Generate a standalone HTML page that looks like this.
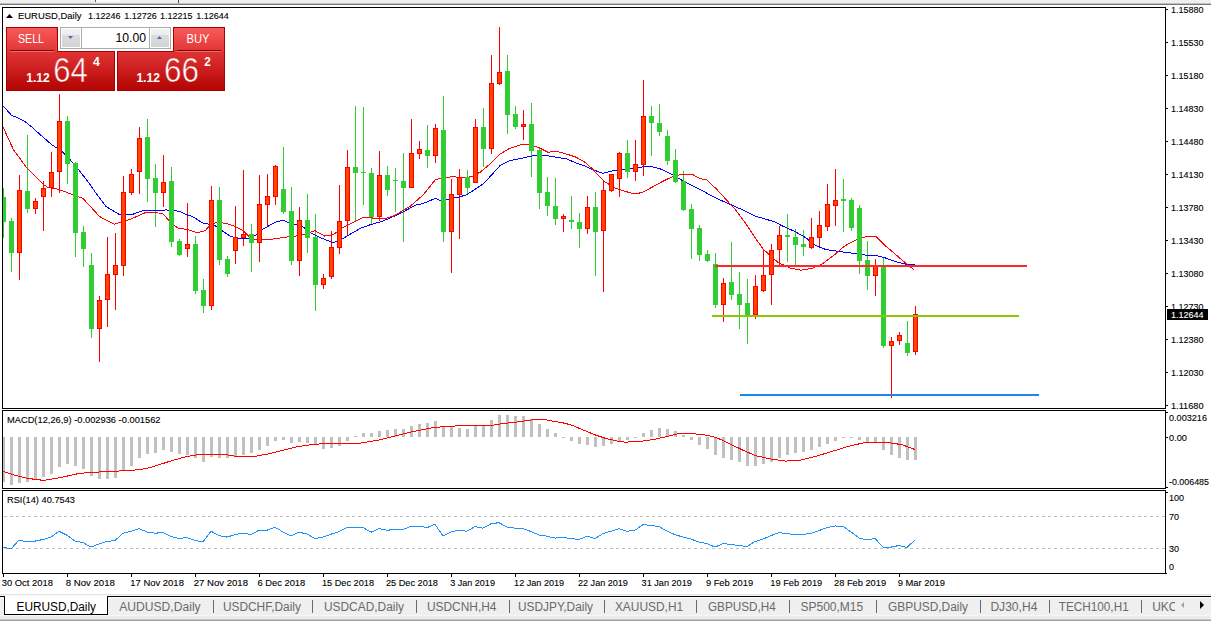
<!DOCTYPE html><html><head><meta charset="utf-8"><title>EURUSD,Daily</title><style>html,body{margin:0;padding:0;background:#fff}body{width:1211px;height:621px;overflow:hidden;position:relative}svg{position:absolute;left:0;top:0;font-family:"Liberation Sans", Arial, sans-serif}</style></head><body>
<svg width="1211" height="621" viewBox="0 0 1211 621">
<defs><linearGradient id="gTab" x1="0" y1="0" x2="0" y2="1"><stop offset="0" stop-color="#f85a5a"/><stop offset="1" stop-color="#e23434"/></linearGradient><linearGradient id="gPx" x1="0" y1="0" x2="0" y2="1"><stop offset="0" stop-color="#e03434"/><stop offset="1" stop-color="#b40404"/></linearGradient><linearGradient id="gBtn" x1="0" y1="0" x2="0" y2="1"><stop offset="0" stop-color="#f2f2f2"/><stop offset="0.33" stop-color="#ececec"/><stop offset="0.34" stop-color="#dcdcdc"/><stop offset="1" stop-color="#d4d4d4"/></linearGradient><linearGradient id="gPxU" gradientUnits="userSpaceOnUse" x1="0" y1="52" x2="0" y2="90"><stop offset="0" stop-color="#e03434"/><stop offset="1" stop-color="#b40404"/></linearGradient></defs>
<g shape-rendering="crispEdges">
<rect x="0" y="0" width="1211" height="3" fill="#efefef"/>
<rect x="0" y="3" width="1211" height="1" fill="#c0c0c0"/>
<rect x="0" y="4" width="1211" height="1" fill="#7a7a7a"/>
<rect x="96" y="0" width="24" height="2" fill="#fafafa"/>
<rect x="95" y="0" width="1" height="2" fill="#606060"/>
<rect x="178" y="0" width="1" height="3" fill="#505050"/>
</g>
<svg x="3" y="8" width="1162" height="400" viewBox="3 8 1162 400" overflow="hidden">
<g shape-rendering="crispEdges">
<rect x="3" y="188" width="1" height="50" fill="#32cd32"/>
<rect x="11" y="218" width="1" height="54" fill="#32cd32"/>
<rect x="19" y="175" width="1" height="105" fill="#ff0000"/>
<rect x="27" y="135" width="1" height="78" fill="#32cd32"/>
<rect x="35" y="198" width="1" height="16" fill="#ff0000"/>
<rect x="43" y="181" width="1" height="50" fill="#ff0000"/>
<rect x="51" y="152" width="1" height="45" fill="#ff0000"/>
<rect x="59" y="94" width="1" height="99" fill="#ff0000"/>
<rect x="67" y="116" width="1" height="68" fill="#32cd32"/>
<rect x="75" y="162" width="1" height="95" fill="#32cd32"/>
<rect x="83" y="226" width="1" height="41" fill="#32cd32"/>
<rect x="91" y="253" width="1" height="85" fill="#32cd32"/>
<rect x="99" y="296" width="1" height="66" fill="#ff0000"/>
<rect x="107" y="237" width="1" height="90" fill="#ff0000"/>
<rect x="115" y="233" width="1" height="77" fill="#ff0000"/>
<rect x="123" y="176" width="1" height="100" fill="#ff0000"/>
<rect x="131" y="169" width="1" height="26" fill="#ff0000"/>
<rect x="139" y="127" width="1" height="67" fill="#ff0000"/>
<rect x="147" y="119" width="1" height="83" fill="#32cd32"/>
<rect x="155" y="164" width="1" height="63" fill="#32cd32"/>
<rect x="163" y="155" width="1" height="52" fill="#ff0000"/>
<rect x="171" y="167" width="1" height="80" fill="#32cd32"/>
<rect x="179" y="239" width="1" height="17" fill="#32cd32"/>
<rect x="187" y="203" width="1" height="54" fill="#ff0000"/>
<rect x="195" y="236" width="1" height="58" fill="#32cd32"/>
<rect x="203" y="279" width="1" height="34" fill="#32cd32"/>
<rect x="211" y="186" width="1" height="124" fill="#ff0000"/>
<rect x="219" y="187" width="1" height="78" fill="#32cd32"/>
<rect x="227" y="256" width="1" height="21" fill="#32cd32"/>
<rect x="235" y="206" width="1" height="58" fill="#ff0000"/>
<rect x="243" y="170" width="1" height="76" fill="#ff0000"/>
<rect x="251" y="224" width="1" height="48" fill="#32cd32"/>
<rect x="259" y="175" width="1" height="87" fill="#ff0000"/>
<rect x="267" y="174" width="1" height="53" fill="#ff0000"/>
<rect x="275" y="165" width="1" height="40" fill="#ff0000"/>
<rect x="283" y="147" width="1" height="67" fill="#32cd32"/>
<rect x="291" y="187" width="1" height="78" fill="#32cd32"/>
<rect x="299" y="207" width="1" height="69" fill="#ff0000"/>
<rect x="307" y="194" width="1" height="59" fill="#32cd32"/>
<rect x="315" y="214" width="1" height="97" fill="#32cd32"/>
<rect x="323" y="274" width="1" height="15" fill="#ff0000"/>
<rect x="331" y="231" width="1" height="48" fill="#ff0000"/>
<rect x="339" y="185" width="1" height="69" fill="#ff0000"/>
<rect x="347" y="150" width="1" height="85" fill="#ff0000"/>
<rect x="355" y="106" width="1" height="115" fill="#32cd32"/>
<rect x="363" y="107" width="1" height="98" fill="#32cd32"/>
<rect x="371" y="168" width="1" height="56" fill="#32cd32"/>
<rect x="379" y="151" width="1" height="70" fill="#ff0000"/>
<rect x="387" y="166" width="1" height="30" fill="#32cd32"/>
<rect x="395" y="168" width="1" height="44" fill="#32cd32"/>
<rect x="403" y="153" width="1" height="89" fill="#32cd32"/>
<rect x="411" y="119" width="1" height="69" fill="#ff0000"/>
<rect x="419" y="141" width="1" height="18" fill="#ff0000"/>
<rect x="427" y="125" width="1" height="43" fill="#32cd32"/>
<rect x="435" y="124" width="1" height="39" fill="#ff0000"/>
<rect x="443" y="96" width="1" height="146" fill="#32cd32"/>
<rect x="451" y="179" width="1" height="94" fill="#ff0000"/>
<rect x="459" y="169" width="1" height="70" fill="#ff0000"/>
<rect x="467" y="170" width="1" height="24" fill="#32cd32"/>
<rect x="475" y="119" width="1" height="64" fill="#ff0000"/>
<rect x="483" y="108" width="1" height="59" fill="#32cd32"/>
<rect x="491" y="55" width="1" height="99" fill="#ff0000"/>
<rect x="499" y="27" width="1" height="58" fill="#ff0000"/>
<rect x="507" y="55" width="1" height="79" fill="#32cd32"/>
<rect x="515" y="106" width="1" height="23" fill="#32cd32"/>
<rect x="523" y="110" width="1" height="30" fill="#ff0000"/>
<rect x="531" y="103" width="1" height="74" fill="#32cd32"/>
<rect x="539" y="149" width="1" height="60" fill="#32cd32"/>
<rect x="547" y="177" width="1" height="39" fill="#32cd32"/>
<rect x="555" y="178" width="1" height="47" fill="#32cd32"/>
<rect x="563" y="214" width="1" height="18" fill="#ff0000"/>
<rect x="571" y="196" width="1" height="33" fill="#32cd32"/>
<rect x="579" y="213" width="1" height="35" fill="#32cd32"/>
<rect x="587" y="196" width="1" height="38" fill="#ff0000"/>
<rect x="595" y="192" width="1" height="84" fill="#32cd32"/>
<rect x="603" y="180" width="1" height="112" fill="#ff0000"/>
<rect x="611" y="174" width="1" height="18" fill="#ff0000"/>
<rect x="619" y="152" width="1" height="45" fill="#ff0000"/>
<rect x="627" y="140" width="1" height="38" fill="#32cd32"/>
<rect x="635" y="140" width="1" height="41" fill="#ff0000"/>
<rect x="643" y="80" width="1" height="96" fill="#ff0000"/>
<rect x="651" y="106" width="1" height="50" fill="#32cd32"/>
<rect x="659" y="104" width="1" height="32" fill="#32cd32"/>
<rect x="667" y="130" width="1" height="35" fill="#32cd32"/>
<rect x="675" y="149" width="1" height="34" fill="#32cd32"/>
<rect x="683" y="171" width="1" height="40" fill="#32cd32"/>
<rect x="691" y="204" width="1" height="55" fill="#32cd32"/>
<rect x="699" y="225" width="1" height="36" fill="#32cd32"/>
<rect x="707" y="250" width="1" height="12" fill="#32cd32"/>
<rect x="715" y="253" width="1" height="55" fill="#32cd32"/>
<rect x="723" y="278" width="1" height="44" fill="#ff0000"/>
<rect x="731" y="242" width="1" height="58" fill="#32cd32"/>
<rect x="739" y="272" width="1" height="57" fill="#32cd32"/>
<rect x="747" y="279" width="1" height="65" fill="#32cd32"/>
<rect x="755" y="275" width="1" height="44" fill="#ff0000"/>
<rect x="763" y="249" width="1" height="43" fill="#ff0000"/>
<rect x="771" y="244" width="1" height="61" fill="#ff0000"/>
<rect x="779" y="226" width="1" height="39" fill="#ff0000"/>
<rect x="787" y="214" width="1" height="48" fill="#32cd32"/>
<rect x="795" y="229" width="1" height="36" fill="#32cd32"/>
<rect x="803" y="230" width="1" height="26" fill="#32cd32"/>
<rect x="811" y="218" width="1" height="31" fill="#ff0000"/>
<rect x="819" y="211" width="1" height="36" fill="#ff0000"/>
<rect x="827" y="184" width="1" height="47" fill="#ff0000"/>
<rect x="835" y="169" width="1" height="57" fill="#ff0000"/>
<rect x="843" y="179" width="1" height="53" fill="#32cd32"/>
<rect x="851" y="198" width="1" height="33" fill="#32cd32"/>
<rect x="859" y="205" width="1" height="69" fill="#32cd32"/>
<rect x="867" y="241" width="1" height="49" fill="#32cd32"/>
<rect x="875" y="259" width="1" height="37" fill="#ff0000"/>
<rect x="883" y="258" width="1" height="90" fill="#32cd32"/>
<rect x="891" y="337" width="1" height="61" fill="#ff0000"/>
<rect x="899" y="332" width="1" height="13" fill="#ff0000"/>
<rect x="907" y="321" width="1" height="35" fill="#32cd32"/>
<rect x="915" y="306" width="1" height="49" fill="#ff0000"/>
</g>
<polyline points="3.0,106.3 7.2,110.4 11.6,115.5 14.5,116.4 19.3,118.6 23.2,120.5 26.1,122.5 30.9,126.3 34.3,129.2 38.1,132.8 51.4,144.4 61.4,151.0 71.3,161.0 79.6,170.9 90.4,185.0 94.5,191.0 106.1,206.6 119.4,214.5 131.0,214.9 144.3,210.2 159.2,210.7 165.8,209.9 179.1,211.2 189.1,215.7 192.0,216.2 203.6,223.5 213.6,224.8 230.1,236.1 238.4,238.4 248.4,238.4 255.0,235.6 263.3,229.0 274.9,222.3 283.2,220.3 291.5,224.0 301.5,225.7 311.4,233.1 321.4,238.1 333.0,242.7 342.0,239.0 350.7,233.9 360.9,228.1 371.0,224.5 381.2,221.6 387.0,219.4 401.4,212.9 415.9,204.9 423.2,203.5 435.5,198.4 440.6,200.6 459.4,197.0 466.9,194.6 483.5,183.8 500.1,165.6 510.0,160.6 529.9,156.5 536.6,155.1 546.5,155.6 566.4,158.9 576.0,162.9 584.0,165.6 592.6,169.5 602.5,173.3 614.1,170.4 625.8,169.2 642.3,167.0 650.6,166.2 662.2,169.5 672.2,174.6 683.8,181.3 698.7,188.7 713.6,197.0 728.6,203.7 741.8,209.5 755.1,216.1 766.7,219.4 776.0,222.4 781.3,225.5 794.5,231.3 806.1,237.9 814.4,244.9 826.0,249.6 839.3,251.5 855.9,253.7 867.5,255.4 875.8,255.4 884.1,257.5 890.7,260.0 897.4,262.0 905.6,264.1 914.8,264.6" fill="none" stroke="#0000ff" stroke-width="1" shape-rendering="crispEdges"/>
<polyline points="3.0,127.0 13.3,149.4 26.5,167.6 43.1,184.2 48.1,187.5 58.0,189.1 71.3,194.1 82.9,198.3 99.5,216.5 114.4,224.3 131.0,219.0 145.9,212.4 162.5,213.2 172.5,224.8 179.1,228.4 187.4,229.4 195.7,232.3 198.6,232.3 205.3,230.6 210.2,224.8 216.9,222.3 225.2,223.2 233.5,225.7 243.4,230.6 249.2,236.8 255.0,239.4 261.7,239.8 274.9,238.9 284.9,237.3 299.8,235.6 308.1,233.1 314.7,230.6 324.7,236.1 333.0,234.8 342.0,228.1 347.8,225.2 355.1,221.6 363.8,217.2 372.5,218.0 387.0,218.0 394.2,215.8 401.4,211.4 410.1,206.4 423.2,194.8 435.5,179.6 444.9,177.4 453.6,176.7 459.4,177.4 463.6,178.0 471.9,176.4 480.2,172.2 490.1,163.9 500.1,154.0 510.0,148.2 521.6,144.5 529.9,144.5 538.2,147.3 548.2,152.3 556.5,151.2 566.4,154.0 576.4,157.3 586.0,162.9 592.6,169.2 604.2,181.3 614.1,187.6 622.4,190.4 634.0,194.0 642.3,192.5 652.3,187.1 662.2,181.6 673.8,176.0 682.1,174.3 692.1,174.3 700.4,178.8 707.0,180.0 717.0,189.6 725.3,198.7 735.2,209.5 745.2,222.7 755.1,237.7 763.4,249.3 771.3,256.6 778.0,262.4 789.6,267.9 801.2,270.2 812.8,268.2 822.7,263.6 834.3,255.0 844.3,246.2 855.9,239.9 864.2,237.1 874.1,236.3 875.9,236.4 884.6,245.1 894.8,253.8 904.9,262.5 913.6,269.4" fill="none" stroke="#ff0000" stroke-width="1" shape-rendering="crispEdges"/>
<g shape-rendering="crispEdges">
<rect x="1" y="197" width="5" height="25" fill="#32cd32"/>
<rect x="9" y="221" width="5" height="32" fill="#32cd32"/>
<rect x="17" y="190" width="5" height="63" fill="#ff0000"/>
<rect x="18" y="191" width="3" height="61" fill="#ff4500"/>
<rect x="25" y="191" width="5" height="18" fill="#32cd32"/>
<rect x="33" y="201" width="5" height="8" fill="#ff0000"/>
<rect x="34" y="202" width="3" height="6" fill="#ff4500"/>
<rect x="41" y="188" width="5" height="9" fill="#ff0000"/>
<rect x="42" y="189" width="3" height="7" fill="#ff4500"/>
<rect x="49" y="172" width="5" height="16" fill="#ff0000"/>
<rect x="50" y="173" width="3" height="14" fill="#ff4500"/>
<rect x="57" y="121" width="5" height="51" fill="#ff0000"/>
<rect x="58" y="122" width="3" height="49" fill="#ff4500"/>
<rect x="65" y="121" width="5" height="43" fill="#32cd32"/>
<rect x="73" y="163" width="5" height="70" fill="#32cd32"/>
<rect x="81" y="232" width="5" height="17" fill="#32cd32"/>
<rect x="89" y="265" width="5" height="64" fill="#32cd32"/>
<rect x="97" y="300" width="5" height="29" fill="#ff0000"/>
<rect x="98" y="301" width="3" height="27" fill="#ff4500"/>
<rect x="105" y="274" width="5" height="26" fill="#ff0000"/>
<rect x="106" y="275" width="3" height="24" fill="#ff4500"/>
<rect x="113" y="265" width="5" height="10" fill="#ff0000"/>
<rect x="114" y="266" width="3" height="8" fill="#ff4500"/>
<rect x="121" y="192" width="5" height="74" fill="#ff0000"/>
<rect x="122" y="193" width="3" height="72" fill="#ff4500"/>
<rect x="129" y="174" width="5" height="19" fill="#ff0000"/>
<rect x="130" y="175" width="3" height="17" fill="#ff4500"/>
<rect x="137" y="138" width="5" height="34" fill="#ff0000"/>
<rect x="138" y="139" width="3" height="32" fill="#ff4500"/>
<rect x="145" y="137" width="5" height="42" fill="#32cd32"/>
<rect x="153" y="178" width="5" height="15" fill="#32cd32"/>
<rect x="161" y="182" width="5" height="11" fill="#ff0000"/>
<rect x="162" y="183" width="3" height="9" fill="#ff4500"/>
<rect x="169" y="181" width="5" height="61" fill="#32cd32"/>
<rect x="177" y="241" width="5" height="14" fill="#32cd32"/>
<rect x="185" y="244" width="5" height="5" fill="#ff0000"/>
<rect x="186" y="245" width="3" height="3" fill="#ff4500"/>
<rect x="193" y="244" width="5" height="47" fill="#32cd32"/>
<rect x="201" y="290" width="5" height="16" fill="#32cd32"/>
<rect x="209" y="200" width="5" height="106" fill="#ff0000"/>
<rect x="210" y="201" width="3" height="104" fill="#ff4500"/>
<rect x="217" y="200" width="5" height="60" fill="#32cd32"/>
<rect x="225" y="259" width="5" height="15" fill="#32cd32"/>
<rect x="233" y="237" width="5" height="14" fill="#ff0000"/>
<rect x="234" y="238" width="3" height="12" fill="#ff4500"/>
<rect x="241" y="234" width="5" height="4" fill="#ff0000"/>
<rect x="242" y="235" width="3" height="2" fill="#ff4500"/>
<rect x="249" y="234" width="5" height="9" fill="#32cd32"/>
<rect x="257" y="204" width="5" height="39" fill="#ff0000"/>
<rect x="258" y="205" width="3" height="37" fill="#ff4500"/>
<rect x="265" y="196" width="5" height="9" fill="#ff0000"/>
<rect x="266" y="197" width="3" height="7" fill="#ff4500"/>
<rect x="273" y="166" width="5" height="31" fill="#ff0000"/>
<rect x="274" y="167" width="3" height="29" fill="#ff4500"/>
<rect x="281" y="189" width="5" height="23" fill="#32cd32"/>
<rect x="289" y="211" width="5" height="50" fill="#32cd32"/>
<rect x="297" y="220" width="5" height="41" fill="#ff0000"/>
<rect x="298" y="221" width="3" height="39" fill="#ff4500"/>
<rect x="305" y="220" width="5" height="18" fill="#32cd32"/>
<rect x="313" y="237" width="5" height="48" fill="#32cd32"/>
<rect x="321" y="278" width="5" height="7" fill="#ff0000"/>
<rect x="322" y="279" width="3" height="5" fill="#ff4500"/>
<rect x="329" y="247" width="5" height="30" fill="#ff0000"/>
<rect x="330" y="248" width="3" height="28" fill="#ff4500"/>
<rect x="337" y="221" width="5" height="27" fill="#ff0000"/>
<rect x="338" y="222" width="3" height="25" fill="#ff4500"/>
<rect x="345" y="167" width="5" height="54" fill="#ff0000"/>
<rect x="346" y="168" width="3" height="52" fill="#ff4500"/>
<rect x="353" y="167" width="5" height="6" fill="#32cd32"/>
<rect x="361" y="172" width="5" height="1" fill="#32cd32"/>
<rect x="369" y="173" width="5" height="44" fill="#32cd32"/>
<rect x="377" y="175" width="5" height="42" fill="#ff0000"/>
<rect x="378" y="176" width="3" height="40" fill="#ff4500"/>
<rect x="385" y="175" width="5" height="15" fill="#32cd32"/>
<rect x="393" y="180" width="5" height="1" fill="#32cd32"/>
<rect x="401" y="181" width="5" height="7" fill="#32cd32"/>
<rect x="409" y="153" width="5" height="35" fill="#ff0000"/>
<rect x="410" y="154" width="3" height="33" fill="#ff4500"/>
<rect x="417" y="149" width="5" height="5" fill="#ff0000"/>
<rect x="418" y="150" width="3" height="3" fill="#ff4500"/>
<rect x="425" y="150" width="5" height="6" fill="#32cd32"/>
<rect x="433" y="128" width="5" height="28" fill="#ff0000"/>
<rect x="434" y="129" width="3" height="26" fill="#ff4500"/>
<rect x="441" y="130" width="5" height="102" fill="#32cd32"/>
<rect x="449" y="194" width="5" height="38" fill="#ff0000"/>
<rect x="450" y="195" width="3" height="36" fill="#ff4500"/>
<rect x="457" y="177" width="5" height="18" fill="#ff0000"/>
<rect x="458" y="178" width="3" height="16" fill="#ff4500"/>
<rect x="465" y="177" width="5" height="11" fill="#32cd32"/>
<rect x="473" y="127" width="5" height="56" fill="#ff0000"/>
<rect x="474" y="128" width="3" height="54" fill="#ff4500"/>
<rect x="481" y="127" width="5" height="22" fill="#32cd32"/>
<rect x="489" y="83" width="5" height="66" fill="#ff0000"/>
<rect x="490" y="84" width="3" height="64" fill="#ff4500"/>
<rect x="497" y="72" width="5" height="12" fill="#ff0000"/>
<rect x="498" y="73" width="3" height="10" fill="#ff4500"/>
<rect x="505" y="71" width="5" height="44" fill="#32cd32"/>
<rect x="513" y="114" width="5" height="13" fill="#32cd32"/>
<rect x="521" y="124" width="5" height="3" fill="#ff0000"/>
<rect x="522" y="125" width="3" height="1" fill="#ff4500"/>
<rect x="529" y="124" width="5" height="27" fill="#32cd32"/>
<rect x="537" y="150" width="5" height="43" fill="#32cd32"/>
<rect x="545" y="192" width="5" height="14" fill="#32cd32"/>
<rect x="553" y="206" width="5" height="13" fill="#32cd32"/>
<rect x="561" y="216" width="5" height="3" fill="#ff0000"/>
<rect x="562" y="217" width="3" height="1" fill="#ff4500"/>
<rect x="569" y="220" width="5" height="2" fill="#32cd32"/>
<rect x="577" y="222" width="5" height="7" fill="#32cd32"/>
<rect x="585" y="207" width="5" height="22" fill="#ff0000"/>
<rect x="586" y="208" width="3" height="20" fill="#ff4500"/>
<rect x="593" y="207" width="5" height="25" fill="#32cd32"/>
<rect x="601" y="190" width="5" height="41" fill="#ff0000"/>
<rect x="602" y="191" width="3" height="39" fill="#ff4500"/>
<rect x="609" y="174" width="5" height="17" fill="#ff0000"/>
<rect x="610" y="175" width="3" height="15" fill="#ff4500"/>
<rect x="617" y="153" width="5" height="26" fill="#ff0000"/>
<rect x="618" y="154" width="3" height="24" fill="#ff4500"/>
<rect x="625" y="153" width="5" height="19" fill="#32cd32"/>
<rect x="633" y="164" width="5" height="8" fill="#ff0000"/>
<rect x="634" y="165" width="3" height="6" fill="#ff4500"/>
<rect x="641" y="116" width="5" height="49" fill="#ff0000"/>
<rect x="642" y="117" width="3" height="47" fill="#ff4500"/>
<rect x="649" y="116" width="5" height="7" fill="#32cd32"/>
<rect x="657" y="123" width="5" height="9" fill="#32cd32"/>
<rect x="665" y="136" width="5" height="25" fill="#32cd32"/>
<rect x="673" y="160" width="5" height="22" fill="#32cd32"/>
<rect x="681" y="181" width="5" height="29" fill="#32cd32"/>
<rect x="689" y="209" width="5" height="20" fill="#32cd32"/>
<rect x="697" y="228" width="5" height="27" fill="#32cd32"/>
<rect x="705" y="254" width="5" height="7" fill="#32cd32"/>
<rect x="713" y="264" width="5" height="41" fill="#32cd32"/>
<rect x="721" y="283" width="5" height="22" fill="#ff0000"/>
<rect x="722" y="284" width="3" height="20" fill="#ff4500"/>
<rect x="729" y="282" width="5" height="13" fill="#32cd32"/>
<rect x="737" y="294" width="5" height="11" fill="#32cd32"/>
<rect x="745" y="303" width="5" height="12" fill="#32cd32"/>
<rect x="753" y="286" width="5" height="29" fill="#ff0000"/>
<rect x="754" y="287" width="3" height="27" fill="#ff4500"/>
<rect x="761" y="275" width="5" height="16" fill="#ff0000"/>
<rect x="762" y="276" width="3" height="14" fill="#ff4500"/>
<rect x="769" y="250" width="5" height="25" fill="#ff0000"/>
<rect x="770" y="251" width="3" height="23" fill="#ff4500"/>
<rect x="777" y="235" width="5" height="15" fill="#ff0000"/>
<rect x="778" y="236" width="3" height="13" fill="#ff4500"/>
<rect x="785" y="235" width="5" height="2" fill="#32cd32"/>
<rect x="793" y="237" width="5" height="8" fill="#32cd32"/>
<rect x="801" y="244" width="5" height="3" fill="#32cd32"/>
<rect x="809" y="237" width="5" height="11" fill="#ff0000"/>
<rect x="810" y="238" width="3" height="9" fill="#ff4500"/>
<rect x="817" y="225" width="5" height="13" fill="#ff0000"/>
<rect x="818" y="226" width="3" height="11" fill="#ff4500"/>
<rect x="825" y="204" width="5" height="23" fill="#ff0000"/>
<rect x="826" y="205" width="3" height="21" fill="#ff4500"/>
<rect x="833" y="200" width="5" height="6" fill="#ff0000"/>
<rect x="834" y="201" width="3" height="4" fill="#ff4500"/>
<rect x="841" y="199" width="5" height="2" fill="#32cd32"/>
<rect x="849" y="200" width="5" height="28" fill="#32cd32"/>
<rect x="857" y="208" width="5" height="53" fill="#32cd32"/>
<rect x="865" y="260" width="5" height="16" fill="#32cd32"/>
<rect x="873" y="266" width="5" height="10" fill="#ff0000"/>
<rect x="874" y="267" width="3" height="8" fill="#ff4500"/>
<rect x="881" y="266" width="5" height="80" fill="#32cd32"/>
<rect x="889" y="341" width="5" height="5" fill="#ff0000"/>
<rect x="890" y="342" width="3" height="3" fill="#ff4500"/>
<rect x="897" y="335" width="5" height="6" fill="#ff0000"/>
<rect x="898" y="336" width="3" height="4" fill="#ff4500"/>
<rect x="905" y="343" width="5" height="10" fill="#32cd32"/>
<rect x="913" y="314" width="5" height="38" fill="#ff0000"/>
<rect x="914" y="315" width="3" height="36" fill="#ff4500"/>
<rect x="712" y="315" width="307" height="2" fill="#8dc605"/>
<rect x="715" y="265" width="312" height="2" fill="#ff2828"/>
<rect x="740" y="394" width="299" height="2" fill="#1e88e5"/>
</g>
</svg>
<svg x="3" y="411" width="1162" height="77" viewBox="3 411 1162 77" overflow="hidden">
<g shape-rendering="crispEdges">
<rect x="2" y="437" width="3" height="45" fill="#c0c0c0"/>
<rect x="10" y="437" width="3" height="48" fill="#c0c0c0"/>
<rect x="18" y="437" width="3" height="46" fill="#c0c0c0"/>
<rect x="26" y="437" width="3" height="45" fill="#c0c0c0"/>
<rect x="34" y="437" width="3" height="43" fill="#c0c0c0"/>
<rect x="42" y="437" width="3" height="40" fill="#c0c0c0"/>
<rect x="50" y="437" width="3" height="37" fill="#c0c0c0"/>
<rect x="58" y="437" width="3" height="30" fill="#c0c0c0"/>
<rect x="66" y="437" width="3" height="27" fill="#c0c0c0"/>
<rect x="74" y="437" width="3" height="29" fill="#c0c0c0"/>
<rect x="82" y="437" width="3" height="32" fill="#c0c0c0"/>
<rect x="90" y="437" width="3" height="39" fill="#c0c0c0"/>
<rect x="98" y="437" width="3" height="42" fill="#c0c0c0"/>
<rect x="106" y="437" width="3" height="42" fill="#c0c0c0"/>
<rect x="114" y="437" width="3" height="41" fill="#c0c0c0"/>
<rect x="122" y="437" width="3" height="33" fill="#c0c0c0"/>
<rect x="130" y="437" width="3" height="29" fill="#c0c0c0"/>
<rect x="138" y="437" width="3" height="21" fill="#c0c0c0"/>
<rect x="146" y="437" width="3" height="17" fill="#c0c0c0"/>
<rect x="154" y="437" width="3" height="16" fill="#c0c0c0"/>
<rect x="162" y="437" width="3" height="13" fill="#c0c0c0"/>
<rect x="170" y="437" width="3" height="15" fill="#c0c0c0"/>
<rect x="178" y="437" width="3" height="17" fill="#c0c0c0"/>
<rect x="186" y="437" width="3" height="18" fill="#c0c0c0"/>
<rect x="194" y="437" width="3" height="21" fill="#c0c0c0"/>
<rect x="202" y="437" width="3" height="25" fill="#c0c0c0"/>
<rect x="210" y="437" width="3" height="20" fill="#c0c0c0"/>
<rect x="218" y="437" width="3" height="21" fill="#c0c0c0"/>
<rect x="226" y="437" width="3" height="21" fill="#c0c0c0"/>
<rect x="234" y="437" width="3" height="19" fill="#c0c0c0"/>
<rect x="242" y="437" width="3" height="18" fill="#c0c0c0"/>
<rect x="250" y="437" width="3" height="16" fill="#c0c0c0"/>
<rect x="258" y="437" width="3" height="13" fill="#c0c0c0"/>
<rect x="266" y="437" width="3" height="9" fill="#c0c0c0"/>
<rect x="274" y="437" width="3" height="4" fill="#c0c0c0"/>
<rect x="282" y="437" width="3" height="3" fill="#c0c0c0"/>
<rect x="290" y="437" width="3" height="6" fill="#c0c0c0"/>
<rect x="298" y="437" width="3" height="5" fill="#c0c0c0"/>
<rect x="306" y="437" width="3" height="6" fill="#c0c0c0"/>
<rect x="314" y="437" width="3" height="8" fill="#c0c0c0"/>
<rect x="322" y="437" width="3" height="12" fill="#c0c0c0"/>
<rect x="330" y="437" width="3" height="11" fill="#c0c0c0"/>
<rect x="338" y="437" width="3" height="9" fill="#c0c0c0"/>
<rect x="346" y="437" width="3" height="4" fill="#c0c0c0"/>
<rect x="354" y="436" width="3" height="1" fill="#c0c0c0"/>
<rect x="362" y="433" width="3" height="4" fill="#c0c0c0"/>
<rect x="370" y="433" width="3" height="4" fill="#c0c0c0"/>
<rect x="378" y="431" width="3" height="6" fill="#c0c0c0"/>
<rect x="386" y="430" width="3" height="7" fill="#c0c0c0"/>
<rect x="394" y="429" width="3" height="8" fill="#c0c0c0"/>
<rect x="402" y="429" width="3" height="8" fill="#c0c0c0"/>
<rect x="410" y="426" width="3" height="11" fill="#c0c0c0"/>
<rect x="418" y="424" width="3" height="13" fill="#c0c0c0"/>
<rect x="426" y="423" width="3" height="14" fill="#c0c0c0"/>
<rect x="434" y="421" width="3" height="16" fill="#c0c0c0"/>
<rect x="442" y="426" width="3" height="11" fill="#c0c0c0"/>
<rect x="450" y="427" width="3" height="10" fill="#c0c0c0"/>
<rect x="458" y="428" width="3" height="9" fill="#c0c0c0"/>
<rect x="466" y="429" width="3" height="8" fill="#c0c0c0"/>
<rect x="474" y="426" width="3" height="11" fill="#c0c0c0"/>
<rect x="482" y="426" width="3" height="11" fill="#c0c0c0"/>
<rect x="490" y="420" width="3" height="17" fill="#c0c0c0"/>
<rect x="498" y="415" width="3" height="22" fill="#c0c0c0"/>
<rect x="506" y="415" width="3" height="22" fill="#c0c0c0"/>
<rect x="514" y="416" width="3" height="21" fill="#c0c0c0"/>
<rect x="522" y="416" width="3" height="21" fill="#c0c0c0"/>
<rect x="530" y="419" width="3" height="18" fill="#c0c0c0"/>
<rect x="538" y="424" width="3" height="13" fill="#c0c0c0"/>
<rect x="546" y="429" width="3" height="8" fill="#c0c0c0"/>
<rect x="554" y="433" width="3" height="4" fill="#c0c0c0"/>
<rect x="562" y="437" width="3" height="1" fill="#c0c0c0"/>
<rect x="570" y="437" width="3" height="4" fill="#c0c0c0"/>
<rect x="578" y="437" width="3" height="7" fill="#c0c0c0"/>
<rect x="586" y="437" width="3" height="8" fill="#c0c0c0"/>
<rect x="594" y="437" width="3" height="10" fill="#c0c0c0"/>
<rect x="602" y="437" width="3" height="9" fill="#c0c0c0"/>
<rect x="610" y="437" width="3" height="7" fill="#c0c0c0"/>
<rect x="618" y="437" width="3" height="4" fill="#c0c0c0"/>
<rect x="626" y="437" width="3" height="3" fill="#c0c0c0"/>
<rect x="634" y="437" width="3" height="1" fill="#c0c0c0"/>
<rect x="642" y="433" width="3" height="4" fill="#c0c0c0"/>
<rect x="650" y="430" width="3" height="7" fill="#c0c0c0"/>
<rect x="658" y="428" width="3" height="9" fill="#c0c0c0"/>
<rect x="666" y="429" width="3" height="8" fill="#c0c0c0"/>
<rect x="674" y="431" width="3" height="6" fill="#c0c0c0"/>
<rect x="682" y="435" width="3" height="2" fill="#c0c0c0"/>
<rect x="690" y="437" width="3" height="3" fill="#c0c0c0"/>
<rect x="698" y="437" width="3" height="8" fill="#c0c0c0"/>
<rect x="706" y="437" width="3" height="12" fill="#c0c0c0"/>
<rect x="714" y="437" width="3" height="18" fill="#c0c0c0"/>
<rect x="722" y="437" width="3" height="21" fill="#c0c0c0"/>
<rect x="730" y="437" width="3" height="23" fill="#c0c0c0"/>
<rect x="738" y="437" width="3" height="25" fill="#c0c0c0"/>
<rect x="746" y="437" width="3" height="29" fill="#c0c0c0"/>
<rect x="754" y="437" width="3" height="29" fill="#c0c0c0"/>
<rect x="762" y="437" width="3" height="27" fill="#c0c0c0"/>
<rect x="770" y="437" width="3" height="25" fill="#c0c0c0"/>
<rect x="778" y="437" width="3" height="21" fill="#c0c0c0"/>
<rect x="786" y="437" width="3" height="18" fill="#c0c0c0"/>
<rect x="794" y="437" width="3" height="16" fill="#c0c0c0"/>
<rect x="802" y="437" width="3" height="15" fill="#c0c0c0"/>
<rect x="810" y="437" width="3" height="13" fill="#c0c0c0"/>
<rect x="818" y="437" width="3" height="10" fill="#c0c0c0"/>
<rect x="826" y="437" width="3" height="7" fill="#c0c0c0"/>
<rect x="834" y="437" width="3" height="4" fill="#c0c0c0"/>
<rect x="842" y="437" width="3" height="1" fill="#c0c0c0"/>
<rect x="850" y="437" width="3" height="1" fill="#c0c0c0"/>
<rect x="858" y="437" width="3" height="3" fill="#c0c0c0"/>
<rect x="866" y="437" width="3" height="5" fill="#c0c0c0"/>
<rect x="874" y="437" width="3" height="6" fill="#c0c0c0"/>
<rect x="882" y="437" width="3" height="13" fill="#c0c0c0"/>
<rect x="890" y="437" width="3" height="18" fill="#c0c0c0"/>
<rect x="898" y="437" width="3" height="21" fill="#c0c0c0"/>
<rect x="906" y="437" width="3" height="23" fill="#c0c0c0"/>
<rect x="914" y="437" width="3" height="23" fill="#c0c0c0"/>
</g>
<polyline points="3.0,471.4 11.9,474.4 27.7,478.4 43.6,480.4 59.5,477.8 79.3,473.4 91.2,472.4 103.0,471.8 118.9,471.0 138.7,469.8 150.6,467.5 170.4,461.1 186.3,456.6 202.1,454.0 222.0,454.0 233.8,456.0 253.8,456.6 267.7,454.0 281.5,450.6 297.4,446.7 311.3,444.7 327.1,443.3 358.8,443.3 378.7,440.1 394.5,436.2 410.4,432.2 434.1,427.4 450.0,426.3 471.9,425.1 493.7,425.1 503.6,423.5 515.5,422.3 529.4,420.3 537.3,419.1 543.3,419.3 551.2,420.9 563.1,422.9 571.0,424.9 582.9,429.8 594.8,434.8 606.7,438.7 618.6,441.3 624.5,442.1 638.4,441.7 652.3,439.7 666.1,436.8 678.0,433.8 693.9,433.8 703.9,434.8 715.8,437.3 727.7,442.7 741.6,449.6 755.5,455.6 771.3,459.1 785.2,461.1 799.0,460.5 814.9,456.6 834.7,450.6 850.6,445.7 866.4,442.3 886.2,442.3 902.1,444.7 915.0,449.6" fill="none" stroke="#ff0000" stroke-width="1" shape-rendering="crispEdges"/>
</svg>
<svg x="3" y="491" width="1162" height="82" viewBox="3 491 1162 82" overflow="hidden">
<g shape-rendering="crispEdges">
<line x1="4" y1="516.5" x2="1165" y2="516.5" stroke="#c0c0c0" stroke-width="1" stroke-dasharray="3,3"/>
<line x1="4" y1="548.5" x2="1165" y2="548.5" stroke="#c0c0c0" stroke-width="1" stroke-dasharray="3,3"/>
</g>
<polyline points="3.0,547.1 11.0,549.0 19.0,540.1 27.0,541.9 35.0,541.1 43.0,539.5 51.0,537.1 59.0,531.2 67.0,535.2 75.0,541.1 83.0,542.5 91.0,547.1 99.0,543.9 107.0,541.5 115.0,540.5 123.0,533.2 131.0,531.2 139.0,528.6 147.0,532.0 155.0,533.2 163.0,532.6 171.0,536.6 179.0,538.5 187.0,537.5 195.0,540.5 203.0,541.9 211.0,531.2 219.0,535.6 227.0,537.1 235.0,534.6 243.0,533.2 251.0,534.6 259.0,530.2 267.0,530.2 275.0,527.2 283.0,532.0 291.0,536.2 299.0,532.2 307.0,534.0 315.0,538.5 323.0,537.1 331.0,534.2 339.0,531.6 347.0,527.6 355.0,527.6 363.0,527.6 371.0,532.2 379.0,528.6 387.0,530.2 395.0,529.6 403.0,529.6 411.0,526.2 419.0,526.2 427.0,527.6 435.0,524.3 443.0,536.0 451.0,532.0 459.0,530.2 467.0,531.2 475.0,526.6 483.0,528.2 491.0,523.7 499.0,522.7 507.0,527.0 515.0,528.2 523.0,528.6 531.0,531.6 539.0,535.0 547.0,536.2 555.0,538.1 563.0,537.5 571.0,538.5 579.0,539.5 587.0,536.2 595.0,538.5 603.0,533.6 611.0,531.2 619.0,528.6 627.0,531.2 635.0,530.2 643.0,524.7 651.0,525.3 659.0,526.6 667.0,531.2 675.0,534.6 683.0,537.1 691.0,539.1 699.0,542.0 707.0,543.5 715.0,547.1 723.0,543.5 731.0,544.5 739.0,545.5 747.0,546.5 755.0,541.5 763.0,539.1 771.0,535.6 779.0,532.6 787.0,533.6 795.0,534.6 803.0,534.6 811.0,533.2 819.0,530.6 827.0,527.6 835.0,526.0 843.0,526.2 851.0,532.0 859.0,537.9 867.0,539.9 875.0,538.5 883.0,547.1 891.0,547.1 899.0,545.5 907.0,547.5 915.0,539.9" fill="none" stroke="#1e90ff" stroke-width="1" shape-rendering="crispEdges"/>
</svg>
<g shape-rendering="crispEdges">
<rect x="2" y="7" width="1164" height="1" fill="#000"/>
<rect x="2" y="408" width="1164" height="1" fill="#000"/>
<rect x="2" y="7" width="1" height="402" fill="#000"/>
<rect x="1165" y="7" width="1" height="402" fill="#000"/>
<rect x="2" y="410" width="1164" height="1" fill="#000"/>
<rect x="2" y="488" width="1164" height="1" fill="#000"/>
<rect x="2" y="410" width="1" height="79" fill="#000"/>
<rect x="1165" y="410" width="1" height="79" fill="#000"/>
<rect x="2" y="490" width="1164" height="1" fill="#000"/>
<rect x="2" y="573" width="1164" height="1" fill="#000"/>
<rect x="2" y="490" width="1" height="84" fill="#000"/>
<rect x="1165" y="490" width="1" height="84" fill="#000"/>
<rect x="1166" y="9" width="2" height="1" fill="#000"/>
<rect x="1166" y="42" width="2" height="1" fill="#000"/>
<rect x="1166" y="75" width="2" height="1" fill="#000"/>
<rect x="1166" y="108" width="2" height="1" fill="#000"/>
<rect x="1166" y="141" width="2" height="1" fill="#000"/>
<rect x="1166" y="174" width="2" height="1" fill="#000"/>
<rect x="1166" y="207" width="2" height="1" fill="#000"/>
<rect x="1166" y="240" width="2" height="1" fill="#000"/>
<rect x="1166" y="273" width="2" height="1" fill="#000"/>
<rect x="1166" y="306" width="2" height="1" fill="#000"/>
<rect x="1166" y="339" width="2" height="1" fill="#000"/>
<rect x="1166" y="372" width="2" height="1" fill="#000"/>
<rect x="1166" y="405" width="2" height="1" fill="#000"/>
<rect x="1166" y="412" width="2" height="1" fill="#000"/>
<rect x="1166" y="437" width="2" height="1" fill="#000"/>
<rect x="1166" y="487" width="2" height="1" fill="#000"/>
<rect x="1166" y="492" width="2" height="1" fill="#000"/>
<rect x="1166" y="573" width="1" height="1" fill="#000"/>
<rect x="3" y="574" width="1" height="3" fill="#000"/>
<rect x="67" y="574" width="1" height="3" fill="#000"/>
<rect x="131" y="574" width="1" height="3" fill="#000"/>
<rect x="195" y="574" width="1" height="3" fill="#000"/>
<rect x="259" y="574" width="1" height="3" fill="#000"/>
<rect x="323" y="574" width="1" height="3" fill="#000"/>
<rect x="387" y="574" width="1" height="3" fill="#000"/>
<rect x="451" y="574" width="1" height="3" fill="#000"/>
<rect x="515" y="574" width="1" height="3" fill="#000"/>
<rect x="579" y="574" width="1" height="3" fill="#000"/>
<rect x="643" y="574" width="1" height="3" fill="#000"/>
<rect x="707" y="574" width="1" height="3" fill="#000"/>
<rect x="771" y="574" width="1" height="3" fill="#000"/>
<rect x="835" y="574" width="1" height="3" fill="#000"/>
<rect x="899" y="574" width="1" height="3" fill="#000"/>
<rect x="1167" y="309" width="41" height="11" fill="#000"/>
</g>
<path d="M6,18 L13,18 L9.5,14 Z" fill="#000"/>
<text x="18" y="19" font-size="9.9" fill="#000" stroke="#000" stroke-width="0.12" textLength="63.5" lengthAdjust="spacingAndGlyphs">EURUSD,Daily</text>
<text x="88" y="19" font-size="9.9" fill="#000" stroke="#000" stroke-width="0.12" textLength="32.5" lengthAdjust="spacingAndGlyphs">1.12246</text>
<text x="124.3" y="19" font-size="9.9" fill="#000" stroke="#000" stroke-width="0.12" textLength="32.5" lengthAdjust="spacingAndGlyphs">1.12726</text>
<text x="160.1" y="19" font-size="9.9" fill="#000" stroke="#000" stroke-width="0.12" textLength="32.5" lengthAdjust="spacingAndGlyphs">1.12215</text>
<text x="196.2" y="19" font-size="9.9" fill="#000" stroke="#000" stroke-width="0.12" textLength="32.5" lengthAdjust="spacingAndGlyphs">1.12644</text>
<text x="1171" y="13" font-size="9.9" fill="#000" stroke="#000" stroke-width="0.12" textLength="32.5" lengthAdjust="spacingAndGlyphs">1.15880</text>
<text x="1171" y="46" font-size="9.9" fill="#000" stroke="#000" stroke-width="0.12" textLength="32.5" lengthAdjust="spacingAndGlyphs">1.15530</text>
<text x="1171" y="79" font-size="9.9" fill="#000" stroke="#000" stroke-width="0.12" textLength="32.5" lengthAdjust="spacingAndGlyphs">1.15180</text>
<text x="1171" y="112" font-size="9.9" fill="#000" stroke="#000" stroke-width="0.12" textLength="32.5" lengthAdjust="spacingAndGlyphs">1.14830</text>
<text x="1171" y="145" font-size="9.9" fill="#000" stroke="#000" stroke-width="0.12" textLength="32.5" lengthAdjust="spacingAndGlyphs">1.14480</text>
<text x="1171" y="178" font-size="9.9" fill="#000" stroke="#000" stroke-width="0.12" textLength="32.5" lengthAdjust="spacingAndGlyphs">1.14130</text>
<text x="1171" y="211" font-size="9.9" fill="#000" stroke="#000" stroke-width="0.12" textLength="32.5" lengthAdjust="spacingAndGlyphs">1.13780</text>
<text x="1171" y="244" font-size="9.9" fill="#000" stroke="#000" stroke-width="0.12" textLength="32.5" lengthAdjust="spacingAndGlyphs">1.13430</text>
<text x="1171" y="277" font-size="9.9" fill="#000" stroke="#000" stroke-width="0.12" textLength="32.5" lengthAdjust="spacingAndGlyphs">1.13080</text>
<text x="1171" y="310" font-size="9.9" fill="#000" stroke="#000" stroke-width="0.12" textLength="32.5" lengthAdjust="spacingAndGlyphs">1.12730</text>
<text x="1171" y="343" font-size="9.9" fill="#000" stroke="#000" stroke-width="0.12" textLength="32.5" lengthAdjust="spacingAndGlyphs">1.12380</text>
<text x="1171" y="376" font-size="9.9" fill="#000" stroke="#000" stroke-width="0.12" textLength="32.5" lengthAdjust="spacingAndGlyphs">1.12030</text>
<text x="1171" y="409" font-size="9.9" fill="#000" stroke="#000" stroke-width="0.12" textLength="32.5" lengthAdjust="spacingAndGlyphs">1.11680</text>
<text x="1171" y="318" font-size="9.9" fill="#fff" stroke="#fff" stroke-width="0.12" textLength="32.5" lengthAdjust="spacingAndGlyphs">1.12644</text>
<text x="1169" y="421" font-size="9.9" fill="#000" stroke="#000" stroke-width="0.12" textLength="38" lengthAdjust="spacingAndGlyphs">0.003216</text>
<text x="1169" y="440.5" font-size="9.9" fill="#000" stroke="#000" stroke-width="0.12" textLength="18" lengthAdjust="spacingAndGlyphs">0.00</text>
<text x="1169" y="485" font-size="9.9" fill="#000" stroke="#000" stroke-width="0.12" textLength="40" lengthAdjust="spacingAndGlyphs">-0.006485</text>
<text x="7" y="423" font-size="9.9" fill="#000" stroke="#000" stroke-width="0.12" textLength="153.5" lengthAdjust="spacingAndGlyphs">MACD(12,26,9) -0.002936 -0.001562</text>
<text x="1169" y="501" font-size="9.9" fill="#000" stroke="#000" stroke-width="0.12" textLength="15" lengthAdjust="spacingAndGlyphs">100</text>
<text x="1169" y="520" font-size="9.9" fill="#000" stroke="#000" stroke-width="0.12" textLength="10" lengthAdjust="spacingAndGlyphs">70</text>
<text x="1169" y="552" font-size="9.9" fill="#000" stroke="#000" stroke-width="0.12" textLength="10" lengthAdjust="spacingAndGlyphs">30</text>
<text x="1169" y="570.2" font-size="9.9" fill="#000" stroke="#000" stroke-width="0.12" textLength="5" lengthAdjust="spacingAndGlyphs">0</text>
<text x="7" y="503" font-size="9.9" fill="#000" stroke="#000" stroke-width="0.12" textLength="68" lengthAdjust="spacingAndGlyphs">RSI(14) 40.7543</text>
<text x="1.7" y="586" font-size="9.9" fill="#000" stroke="#000" stroke-width="0.12" textLength="51.2" lengthAdjust="spacingAndGlyphs">30 Oct 2018</text>
<text x="65.7" y="586" font-size="9.9" fill="#000" stroke="#000" stroke-width="0.12" textLength="49.2" lengthAdjust="spacingAndGlyphs">8 Nov 2018</text>
<text x="130.29999999999998" y="586" font-size="9.9" fill="#000" stroke="#000" stroke-width="0.12" textLength="53.6" lengthAdjust="spacingAndGlyphs">17 Nov 2018</text>
<text x="193.7" y="586" font-size="9.9" fill="#000" stroke="#000" stroke-width="0.12" textLength="54.3" lengthAdjust="spacingAndGlyphs">27 Nov 2018</text>
<text x="257.5" y="586" font-size="9.9" fill="#000" stroke="#000" stroke-width="0.12" textLength="47.7" lengthAdjust="spacingAndGlyphs">6 Dec 2018</text>
<text x="321.9" y="586" font-size="9.9" fill="#000" stroke="#000" stroke-width="0.12" textLength="52.2" lengthAdjust="spacingAndGlyphs">15 Dec 2018</text>
<text x="385.9" y="586" font-size="9.9" fill="#000" stroke="#000" stroke-width="0.12" textLength="52.1" lengthAdjust="spacingAndGlyphs">25 Dec 2018</text>
<text x="450.3" y="586" font-size="9.9" fill="#000" stroke="#000" stroke-width="0.12" textLength="44.6" lengthAdjust="spacingAndGlyphs">3 Jan 2019</text>
<text x="514.1" y="586" font-size="9.9" fill="#000" stroke="#000" stroke-width="0.12" textLength="50.1" lengthAdjust="spacingAndGlyphs">12 Jan 2019</text>
<text x="578.0" y="586" font-size="9.9" fill="#000" stroke="#000" stroke-width="0.12" textLength="49.9" lengthAdjust="spacingAndGlyphs">22 Jan 2019</text>
<text x="641.6" y="586" font-size="9.9" fill="#000" stroke="#000" stroke-width="0.12" textLength="50.2" lengthAdjust="spacingAndGlyphs">31 Jan 2019</text>
<text x="705.9000000000001" y="586" font-size="9.9" fill="#000" stroke="#000" stroke-width="0.12" textLength="47.2" lengthAdjust="spacingAndGlyphs">9 Feb 2019</text>
<text x="770.3000000000001" y="586" font-size="9.9" fill="#000" stroke="#000" stroke-width="0.12" textLength="51.9" lengthAdjust="spacingAndGlyphs">19 Feb 2019</text>
<text x="834.0" y="586" font-size="9.9" fill="#000" stroke="#000" stroke-width="0.12" textLength="52.1" lengthAdjust="spacingAndGlyphs">28 Feb 2019</text>
<text x="897.7" y="586" font-size="9.9" fill="#000" stroke="#000" stroke-width="0.12" textLength="47.3" lengthAdjust="spacingAndGlyphs">9 Mar 2019</text>
<g shape-rendering="crispEdges">
<rect x="6" y="27" width="52" height="25" fill="#a80000"/>
<rect x="6" y="51" width="109" height="40" fill="#a80000"/>
<rect x="7" y="52" width="107" height="38" fill="url(#gPx)"/>
<rect x="7" y="28" width="50" height="24" fill="url(#gTab)"/>
<rect x="56" y="28" width="1" height="23" fill="#e44848"/>
<rect x="10" y="50" width="44" height="1" fill="#7a0000"/>
<rect x="10" y="51" width="44" height="1" fill="#f46a6a"/>
<rect x="173" y="27" width="52" height="25" fill="#a80000"/>
<rect x="117" y="51" width="108" height="40" fill="#a80000"/>
<rect x="118" y="52" width="106" height="38" fill="url(#gPx)"/>
<rect x="174" y="28" width="50" height="24" fill="url(#gTab)"/>
<rect x="177" y="50" width="44" height="1" fill="#7a0000"/>
<rect x="177" y="51" width="44" height="1" fill="#f46a6a"/>
<rect x="60" y="27" width="111" height="22" fill="#a9aab2"/>
<rect x="61" y="28" width="20" height="20" fill="#ffffff"/>
<rect x="62" y="29" width="18" height="18" fill="url(#gBtn)"/>
<rect x="81" y="28" width="1" height="20" fill="#a9aab2"/>
<rect x="82" y="28" width="67" height="20" fill="#fff"/>
<rect x="149" y="28" width="1" height="20" fill="#a9aab2"/>
<rect x="150" y="28" width="20" height="20" fill="#ffffff"/>
<rect x="151" y="29" width="18" height="18" fill="url(#gBtn)"/>
</g>
<path d="M68,36 L73,36 L70.5,39 Z" fill="#5565c8"/>
<path d="M157,39 L162,39 L159.5,36 Z" fill="#5565c8"/>
<text x="18" y="43" font-size="12.3" fill="#fff" textLength="26" lengthAdjust="spacingAndGlyphs">SELL</text>
<text x="186.5" y="43" font-size="12.3" fill="#fff" textLength="23" lengthAdjust="spacingAndGlyphs">BUY</text>
<text x="115.5" y="42" font-size="12.6" fill="#000" textLength="30.5" lengthAdjust="spacingAndGlyphs">10.00</text>
<text x="26.3" y="82" font-size="13.5" fill="#fff" font-weight="bold" textLength="23.5" lengthAdjust="spacingAndGlyphs">1.12</text>
<text x="53.2" y="82" font-size="34.5" fill="#fff" stroke="url(#gPxU)" stroke-width="0.6" textLength="34.5" lengthAdjust="spacingAndGlyphs">64</text>
<text x="93" y="66" font-size="12" fill="#fff" font-weight="bold" textLength="6.8" lengthAdjust="spacingAndGlyphs">4</text>
<text x="136.4" y="82" font-size="13.5" fill="#fff" font-weight="bold" textLength="23.5" lengthAdjust="spacingAndGlyphs">1.12</text>
<text x="164.1" y="82" font-size="34.5" fill="#fff" stroke="url(#gPxU)" stroke-width="0.6" textLength="35" lengthAdjust="spacingAndGlyphs">66</text>
<text x="204.3" y="66" font-size="12" fill="#fff" font-weight="bold" textLength="6.5" lengthAdjust="spacingAndGlyphs">2</text>
<g shape-rendering="crispEdges">
<rect x="0" y="594" width="1211" height="1" fill="#e3e3e3"/>
<rect x="0" y="595" width="1211" height="1" fill="#f8f8f8"/>
<rect x="0" y="596" width="1211" height="1" fill="#000"/>
<rect x="0" y="597" width="1211" height="1" fill="#ffffff"/>
<rect x="0" y="598" width="1211" height="17" fill="#efefef"/>
<rect x="0" y="615" width="1211" height="1" fill="#f7f7f7"/>
<rect x="0" y="616" width="1211" height="4" fill="#ececec"/>
<rect x="0" y="619" width="1211" height="1" fill="#c8c8c8"/>
<rect x="0" y="620" width="1211" height="1" fill="#a0a0a0"/>
<rect x="4" y="596" width="104" height="19" fill="#000"/>
<rect x="5" y="596" width="102" height="18" fill="#fff"/>
<rect x="213" y="600" width="1" height="13" fill="#6a6a6a"/>
<rect x="312" y="600" width="1" height="13" fill="#6a6a6a"/>
<rect x="416" y="600" width="1" height="13" fill="#6a6a6a"/>
<rect x="509" y="600" width="1" height="13" fill="#6a6a6a"/>
<rect x="604" y="600" width="1" height="13" fill="#6a6a6a"/>
<rect x="696" y="600" width="1" height="13" fill="#6a6a6a"/>
<rect x="789" y="600" width="1" height="13" fill="#6a6a6a"/>
<rect x="876" y="600" width="1" height="13" fill="#6a6a6a"/>
<rect x="980" y="600" width="1" height="13" fill="#6a6a6a"/>
<rect x="1049" y="600" width="1" height="13" fill="#6a6a6a"/>
<rect x="1141" y="600" width="1" height="13" fill="#6a6a6a"/>
</g>
<text x="16.5" y="611" font-size="12" fill="#000" textLength="79.5" lengthAdjust="spacingAndGlyphs">EURUSD,Daily</text>
<text x="119.2" y="611" font-size="12" fill="#6a6a6a" textLength="81.5" lengthAdjust="spacingAndGlyphs">AUDUSD,Daily</text>
<text x="222.9" y="611" font-size="12" fill="#6a6a6a" textLength="78" lengthAdjust="spacingAndGlyphs">USDCHF,Daily</text>
<text x="324" y="611" font-size="12" fill="#6a6a6a" textLength="80" lengthAdjust="spacingAndGlyphs">USDCAD,Daily</text>
<text x="427" y="611" font-size="12" fill="#6a6a6a" textLength="69.4" lengthAdjust="spacingAndGlyphs">USDCNH,H4</text>
<text x="518" y="611" font-size="12" fill="#6a6a6a" textLength="75" lengthAdjust="spacingAndGlyphs">USDJPY,Daily</text>
<text x="614.9" y="611" font-size="12" fill="#6a6a6a" textLength="68.3" lengthAdjust="spacingAndGlyphs">XAUUSD,H1</text>
<text x="708" y="611" font-size="12" fill="#6a6a6a" textLength="67.7" lengthAdjust="spacingAndGlyphs">GBPUSD,H4</text>
<text x="800.5" y="611" font-size="12" fill="#6a6a6a" textLength="62.7" lengthAdjust="spacingAndGlyphs">SP500,M15</text>
<text x="888" y="611" font-size="12" fill="#6a6a6a" textLength="80" lengthAdjust="spacingAndGlyphs">GBPUSD,Daily</text>
<text x="990.4" y="611" font-size="12" fill="#6a6a6a" textLength="47" lengthAdjust="spacingAndGlyphs">DJ30,H4</text>
<text x="1058.7" y="611" font-size="12" fill="#6a6a6a" textLength="70" lengthAdjust="spacingAndGlyphs">TECH100,H1</text>
<svg x="1150" y="596" width="25" height="20" viewBox="1150 596 25 20" overflow="hidden">
<text x="1152.2" y="611" font-size="12" fill="#6a6a6a">UKOIL,H1</text>
</svg>
<path d="M1184,602 L1184,608 L1181,605 Z" fill="#a0a0a0"/>
<path d="M1200,601 L1200,609 L1204,605 Z" fill="#000"/>
</svg>
</body></html>
